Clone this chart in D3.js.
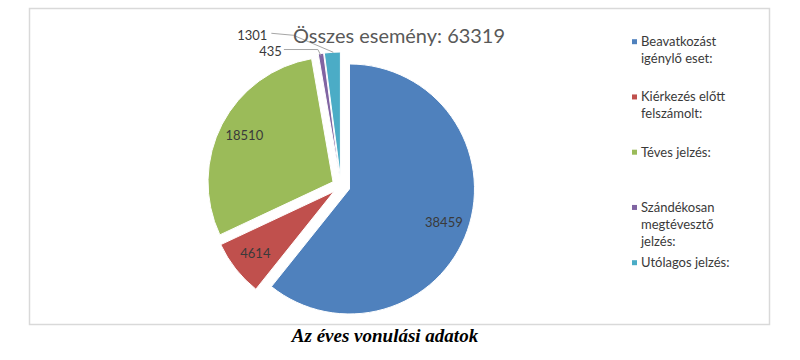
<!DOCTYPE html>
<html>
<head>
<meta charset="utf-8">
<script src="https://cdn.jsdelivr.net/npm/d3@7"></script>
<style>
  body { margin: 0; background: #fff; }
  text { font-family: Lato, "Open Sans", sans-serif; }
  text.caption { font-family: "Liberation Serif", "Times New Roman", serif; }
</style>
</head>
<body>
<div class="chart"></div>
<script>
// Éves vonulási adatok, kördiagram

var categories = ["Beavatkozást igénylő eset:", "Kiérkezés előtt felszámolt:", "Téves jelzés:",
                  "Szándékosan megtévesztő jelzés:", "Utólagos jelzés:"];
var legendLines = [["Beavatkozást", "igénylő eset:"], ["Kiérkezés előtt", "felszámolt:"], ["Téves jelzés:"],
                   ["Szándékosan", "megtévesztő", "jelzés:"], ["Utólagos jelzés:"]];
var values = [38459, 4614, 18510, 435, 1301];
var colors = ["#4f81bd", "#c0504d", "#9bbb59", "#8064a2", "#4bacc6"];
var titleText = "Összes esemény: " + d3.sum(values);
var captionText = "Az éves vonulási adatok";

var width = 800, height = 360;
var cx = 341, cy = 186, radius = 125, explode = 9;

var svg = d3.select(".chart").append("svg")
    .attr("width", width)
    .attr("height", height);

// chart frame
svg.append("rect")
    .attr("x", 29.5).attr("y", 8.5)
    .attr("width", 740).attr("height", 316)
    .attr("fill", "none")
    .attr("stroke", "#d9d9d9")
    .attr("stroke-width", 1.5);

var pie = d3.pie().sort(null).value(function(d) { return d; });
var arcs = pie(values);

var arc = d3.arc().innerRadius(0).outerRadius(radius);
var labelArc = d3.arc().innerRadius(radius * 0.8).outerRadius(radius * 0.8);

function shift(d) {
    var a = (d.startAngle + d.endAngle) / 2;
    return [explode * Math.sin(a), -explode * Math.cos(a)];
}

var g = svg.append("g").attr("transform", "translate(" + cx + "," + cy + ")");

var slices = g.selectAll(".slice")
    .data(arcs)
    .enter()
    .append("g")
    .attr("class", "slice")
    .attr("transform", function(d) { var s = shift(d); return "translate(" + s[0] + "," + s[1] + ")"; });

slices.append("path")
    .attr("d", arc)
    .attr("fill", function(d, i) { return colors[i]; })
    .attr("stroke", "#fff")
    .attr("stroke-width", 1);

// labels inside the big slices
slices.filter(function(d) { return d.value > 2000; })
    .append("text")
    .attr("transform", function(d) { return "translate(" + labelArc.centroid(d) + ")"; })
    .attr("text-anchor", "middle")
    .attr("dy", "0.35em")
    .attr("font-size", 13)
    .attr("fill", "#3a3a3a")
    .text(function(d) { return d.value; });

// small slices: label outside with leader line
var small = arcs.filter(function(d) { return d.value <= 2000; });
var leader = {435: {dx: -37, dy: -4, tx: -38, ty: -2}, 1301: {dx: -61, dy: -19, tx: -64, ty: -17}};

small.forEach(function(d) {
    var s = shift(d);
    var a = (d.startAngle + d.endAngle) / 2;
    var px = cx + s[0] + radius * Math.sin(a),
        py = cy + s[1] - radius * Math.cos(a);
    var L = leader[d.value];
    var pts = d.value === 435
        ? [[px + L.dx, py + L.dy], [px - 3, py + L.dy], [px, py + 2]]
        : [[px + L.dx, py + L.dy], [px - 39, py - 17], [px + 1, py]];
    svg.append("path")
        .attr("d", d3.line()(pts))
        .attr("fill", "none")
        .attr("stroke", "#a6a6a6")
        .attr("stroke-width", 1);
    svg.append("text")
        .attr("x", px + L.tx - 1)
        .attr("y", py + L.ty)
        .attr("text-anchor", "end")
        .attr("dy", "0.35em")
        .attr("font-size", 13)
        .attr("fill", "#3a3a3a")
        .text(d.value);
});

// title
svg.append("text")
    .attr("x", 399)
    .attr("y", 43)
    .attr("text-anchor", "middle")
    .attr("font-size", 19)
    .attr("fill", "#595959")
    .attr("textLength", 212)
    .attr("lengthAdjust", "spacingAndGlyphs")
    .text(titleText);

// legend
var legend = svg.selectAll(".legend")
    .data(legendLines)
    .enter()
    .append("g")
    .attr("class", "legend")
    .attr("transform", function(d, i) { return "translate(632," + (41.7 + i * 55.25) + ")"; });

legend.append("rect")
    .attr("x", 0).attr("y", -2.5)
    .attr("width", 5).attr("height", 5)
    .attr("fill", function(d, i) { return colors[i]; });

legend.append("text")
    .attr("font-size", 13)
    .attr("fill", "#3a3a3a")
    .selectAll("tspan")
    .data(function(d) { return d; })
    .enter()
    .append("tspan")
    .attr("x", 9)
    .attr("y", function(d, j) { return 4.5 + j * 16.8; })
    .text(function(d) { return d; });

// caption
svg.append("text")
    .attr("class", "caption")
    .attr("x", 385)
    .attr("y", 342)
    .attr("text-anchor", "middle")
    .attr("font-weight", "bold")
    .attr("font-style", "italic")
    .attr("font-size", 19)
    .attr("fill", "#000")
    .text(captionText);
</script>
</body>
</html>
